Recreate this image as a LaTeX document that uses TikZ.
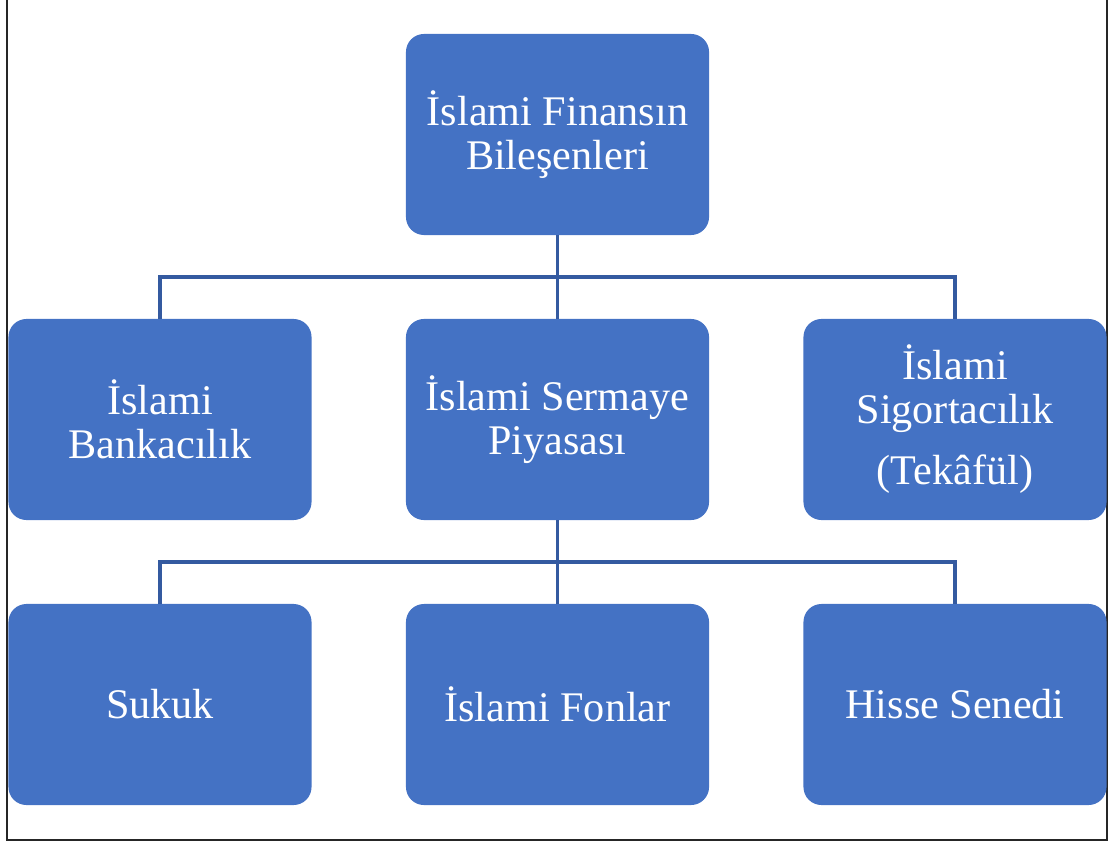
\documentclass[tikz,border=0pt]{standalone}
\usepackage{fontspec}
\setmainfont{Liberation Serif}
\usepackage{xcolor}
\definecolor{kutumavi}{RGB}{68,114,196}
\definecolor{cizgimavi}{RGB}{52,90,160}
\tikzset{
	comp/.style={draw=none, fill=kutumavi, rounded corners=0.45cm, text=white,
		minimum width=7.575cm, minimum height=5.025cm, align=center,
		font=\fontsize{30}{31.3}\selectfont},
	conn/.style={cizgimavi, line width=2.6pt}
}

\begin{document}
\begin{tikzpicture}[x=0.025cm, y=-0.025cm]
	\useasboundingbox (0,0) rectangle (1115,845);
	\begin{scope}
		\clip (0,0) rectangle (1115,845);
		\draw[black!85, line width=1.8pt] (7,-10) rectangle (1107,840);
	\end{scope}
	
	% ust seviye
	\node[comp] (bilesen) at (557.5,134.5) {İslami Finansın\\Bileşenleri};
	
	% orta seviye
	\node[comp] (banka) at (160,419.5) {İslami\\Bankacılık};
	\node[comp] (sermaye) at (557.5,419.5) {İslami Sermaye\\Piyasası};
	\node[comp] (tekaful) at (955,419.5) {İslami\\Sigortacılık\\[12pt](Tekâfül)};
	
	% alt seviye
	\node[comp] (sukuk) at (160,704.5) {Sukuk};
	\node[comp] (fon) at (557.5,704.5) {İslami Fonlar};
	\node[comp] (hisse) at (955,704.5) {Hisse Senedi};
	
	\coordinate (d1) at (557.5,277);
	\coordinate (d2) at (557.5,562);
	
	\draw[conn] (bilesen.south) -- (sermaye.north);
	\draw[conn] (banka.north) |- (d1) -| (tekaful.north);
	\draw[conn] (sermaye.south) -- (fon.north);
	\draw[conn] (sukuk.north) |- (d2) -| (hisse.north);
\end{tikzpicture}
\end{document}
